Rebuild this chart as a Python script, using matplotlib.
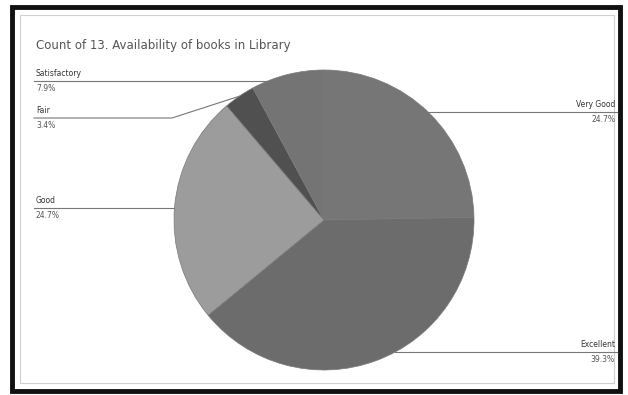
import matplotlib.pyplot as plt
from matplotlib.patches import Rectangle
import numpy as np

W, H = 628, 395

# data (clockwise from 12 o'clock)
categories = ["Very Good", "Excellent", "Good", "Fair", "Satisfactory"]
counts = [22, 35, 22, 3, 7]
colors = ["#767676", "#6c6c6c", "#9c9c9c", "#505050", "#747474"]

# leader line y (pixels), text x, alignment, kink x (None = straight)
label_pos = {
    "Very Good": (112, 615, "right", None),
    "Excellent": (352, 615, "right", None),
    "Good": (208, 36, "left", None),
    "Fair": (118, 36, "left", 172),
    "Satisfactory": (81, 36, "left", None),
}


def fx(x):
    return x / W


def fy(y):
    return 1 - y / H


fig = plt.figure(figsize=(W / 100, H / 100), dpi=100)
fig.patch.set_facecolor("white")

# frame of the scanned chart
fig.patches.append(Rectangle((fx(12), fy(391)), fx(608), 384 / H,
                             transform=fig.transFigure, fill=False,
                             edgecolor="#111111", linewidth=3.5))
fig.patches.append(Rectangle((fx(20), fy(383)), fx(594), 368 / H,
                             transform=fig.transFigure, fill=False,
                             edgecolor="#d0d0d0", linewidth=0.8))

cx, cy, r = 324, 220, 150
ax = fig.add_axes([fx(cx - r), fy(cy + r), 2 * r / W, 2 * r / H])
wedges, _ = ax.pie(counts, colors=colors, startangle=90, counterclock=False,
                   wedgeprops=dict(linewidth=0.5, edgecolor="#7a7a7a"))
ax.set_aspect("equal")
ax.set_xlim(-1, 1)
ax.set_ylim(-1, 1)

fig.text(fx(36), fy(45), "Count of 13. Availability of books in Library",
         fontsize=8.5, color="#555555", va="center", ha="left")

total = sum(counts)
for w, name, c in zip(wedges, categories, counts):
    L, tx, ha, kink = label_pos[name]
    pct = f"{100 * c / total:.1f}%"
    fig.text(fx(tx), fy(L - 3), name, fontsize=5.5, color="#333333",
             ha=ha, va="bottom")
    fig.text(fx(tx), fy(L + 3), pct, fontsize=5.5, color="#555555",
             ha=ha, va="top")
    side = 1 if ha == "right" else -1
    start = tx + 2 if ha == "right" else tx - 2
    if kink is None:
        ex = cx + side * np.sqrt(r ** 2 - (L - cy) ** 2)
        xs, ys = [start, ex], [L, L]
    else:
        ang = np.deg2rad((w.theta1 + w.theta2) / 2)
        ex = cx + r * np.cos(ang)
        ey = cy - r * np.sin(ang)
        xs, ys = [start, kink, ex], [L, L, ey]
    fig.add_artist(plt.Line2D([fx(v) for v in xs], [fy(v) for v in ys],
                              transform=fig.transFigure,
                              color="#777777", linewidth=0.8))

fig.savefig("out.png", dpi=100)
